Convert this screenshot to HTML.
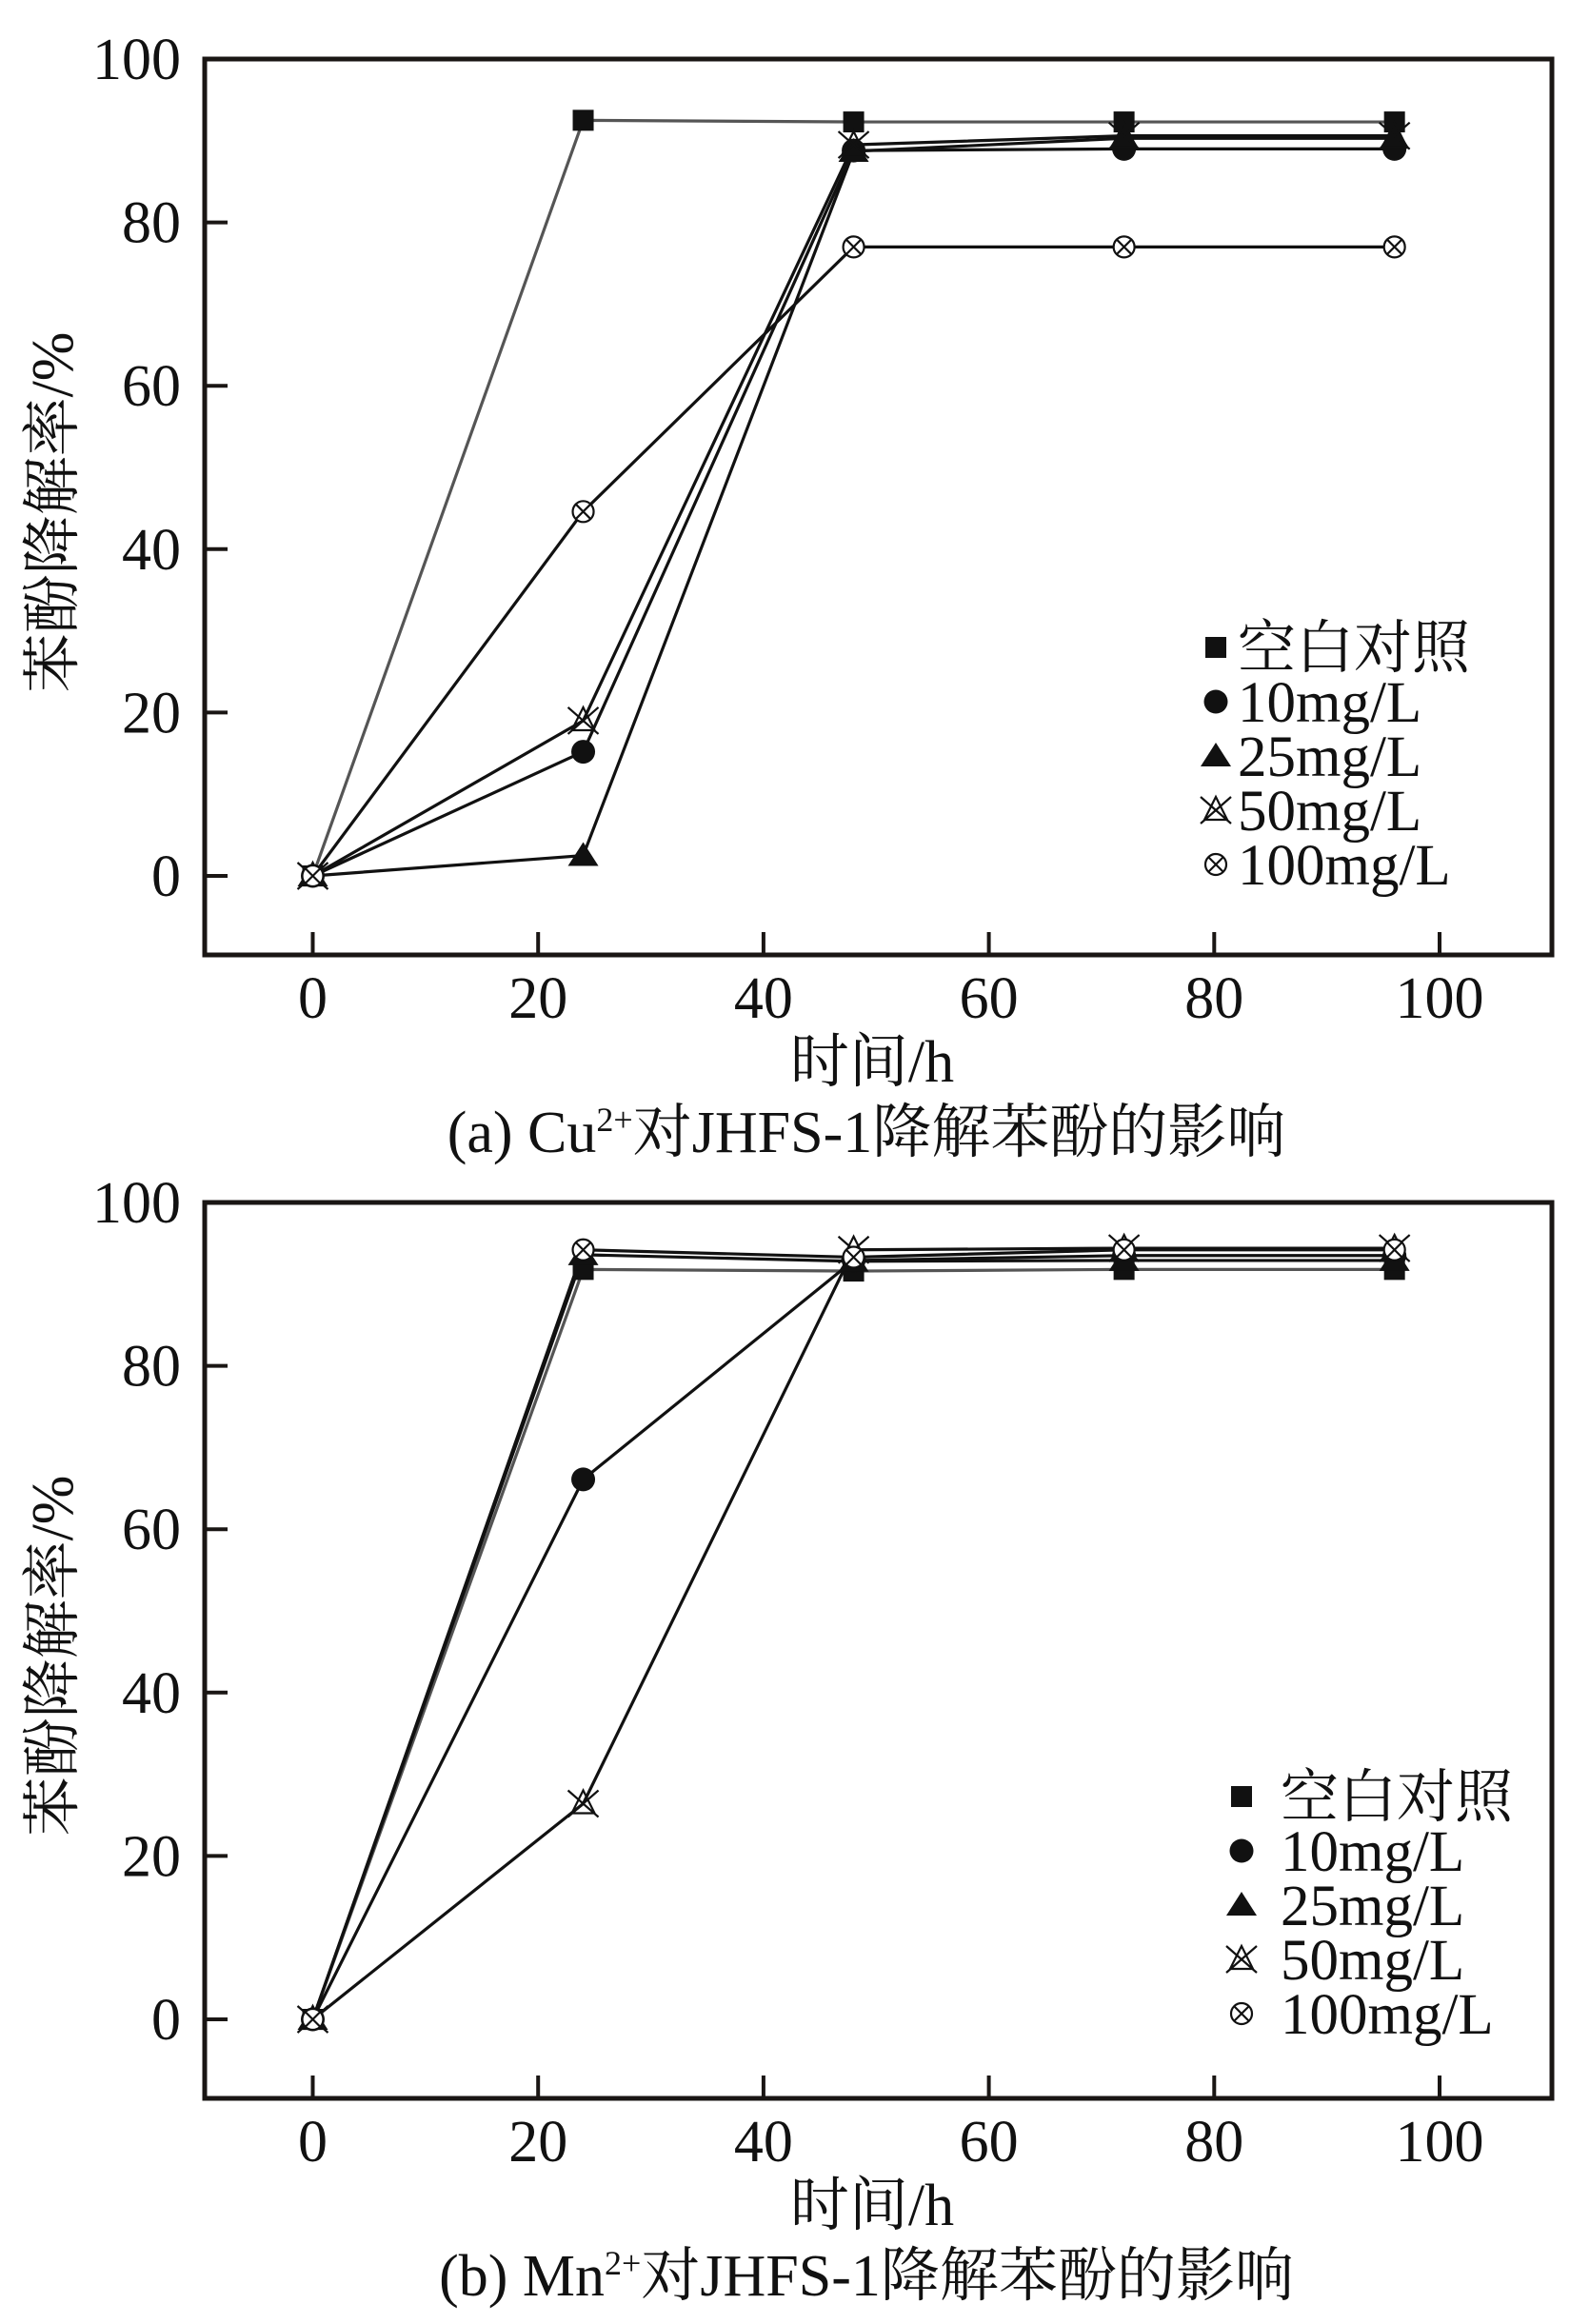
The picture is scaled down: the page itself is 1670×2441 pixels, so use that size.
<!DOCTYPE html>
<html><head><meta charset="utf-8"><style>
html,body{margin:0;padding:0;background:#fff;}
svg{display:block;}
text{font-family:"Liberation Serif","Noto Serif CJK SC",serif;fill:#111;}
</style></head><body>
<svg id="fig" width="1670" height="2441" viewBox="0 0 1670 2441"></svg>
<script>
const xTicks = [0, 20, 40, 60, 80, 100];
const yTicks = [0, 20, 40, 60, 80, 100];
const hours = [0, 24, 48, 72, 96];
const seriesNames = ['空白对照', '10mg/L', '25mg/L', '50mg/L', '100mg/L'];
const seriesKeys = ['blank', '10mg', '25mg', '50mg', '100mg'];
const cuBlank = [0, 92.5, 92.3, 92.3, 92.3];
const cu10 = [0, 15.2, 88.8, 89.0, 89.0];
const cu25 = [0, 2.5, 88.7, 90.3, 90.3];
const cu50 = [0, 19.0, 89.5, 90.6, 90.6];
const cu100 = [0, 44.6, 77.0, 77.0, 77.0];
const mnBlank = [0, 91.8, 91.6, 91.8, 91.8];
const mn10 = [0, 66.1, 92.9, 93.5, 93.5];
const mn25 = [0, 93.6, 92.8, 92.9, 92.9];
const mn50 = [0, 26.4, 94.2, 94.4, 94.4];
const mn100 = [0, 94.2, 93.3, 94.2, 94.2];

const NS = 'http://www.w3.org/2000/svg';
const svg = document.getElementById('fig');
function mk(tag, attrs, parent) {
  const e = document.createElementNS(NS, tag);
  for (const k in attrs) e.setAttribute(k, attrs[k]);
  (parent || svg).appendChild(e);
  return e;
}

function drawMarker(g, key, cx, cy) {
  let m;
  if (key === 'blank') {
    m = mk('rect', {x: cx - 11, y: cy - 11, width: 22, height: 22, fill: '#111'}, g);
  } else if (key === '10mg') {
    m = mk('circle', {cx: cx, cy: cy, r: 12.5, fill: '#111'}, g);
  } else if (key === '25mg') {
    m = mk('polygon', {points: `${cx},${cy - 14} ${cx + 16},${cy + 11} ${cx - 16},${cy + 11}`, fill: '#111'}, g);
  } else if (key === '50mg') {
    m = mk('path', {d: `M${cx - 16},${cy - 14}L${cx + 16},${cy + 14}M${cx + 16},${cy - 14}L${cx - 16},${cy + 14}M${cx},${cy - 14}L${cx + 12},${cy + 10}L${cx - 12},${cy + 10}Z`, fill: 'none', stroke: '#111', 'stroke-width': 2.2}, g);
  } else {
    m = mk('g', {}, g);
    mk('circle', {cx: cx, cy: cy, r: 11, fill: '#fff', stroke: '#111', 'stroke-width': 2.2}, m);
    mk('path', {d: `M${cx - 7.5},${cy - 7.5}L${cx + 7.5},${cy + 7.5}M${cx + 7.5},${cy - 7.5}L${cx - 7.5},${cy + 7.5}`, stroke: '#111', 'stroke-width': 2.2}, m);
  }
  return m;
}

function drawChart(oy, seriesData, caption, legendX, legendY, legendTextX, panelName) {
  const left = 215, right = 1630, top = 62 + oy, bottom = 1003 + oy;
  const xs = v => 328.5 + v * 11.835;
  const ys = v => 920 + oy - v * 8.58;
  const g = mk('g', {});
  
  

  seriesData.forEach((vals, si) => {
    const key = seriesKeys[si];
    const pts = vals.map((v, i) => xs(hours[i]) + ',' + ys(v)).join(' ');
    const line = mk('polyline', {points: pts, fill: 'none', stroke: key === 'blank' ? '#555' : '#111', 'stroke-width': 3.2}, g);
    
    
  });
  seriesData.forEach((vals, si) => {
    const key = seriesKeys[si];
    vals.forEach((v, i) => {
      const m = drawMarker(g, key, xs(hours[i]), ys(v));
      
      
    });
  });

  const frame = mk('rect', {x: left, y: top, width: right - left, height: bottom - top, fill: 'none', stroke: '#1a1614', 'stroke-width': 5}, g);
  
  

  xTicks.forEach(t => {
    const x = xs(t);
    const tk = mk('line', {x1: x, y1: bottom, x2: x, y2: bottom - 24, stroke: '#1a1614', 'stroke-width': 4}, g);
    
    
    const lb = mk('text', {x: x, y: bottom + 66, 'font-size': 62, 'text-anchor': 'middle'}, g);
    lb.textContent = t;
    
    
  });
  yTicks.forEach(t => {
    const y = ys(t);
    const tk = mk('line', {x1: left, y1: y, x2: left + 24, y2: y, stroke: '#1a1614', 'stroke-width': 4}, g);
    
    
    const lb = mk('text', {x: 190, y: y + 21, 'font-size': 62, 'text-anchor': 'end'}, g);
    lb.textContent = t;
    
    
  });

  const yt = mk('text', {x: 0, y: 0, 'font-size': 62, 'text-anchor': 'middle', transform: `translate(76,${538 + oy}) rotate(-90)`}, g);
  yt.textContent = '苯酚降解率/%';
  
  
  const xt = mk('text', {x: 916, y: 1136 + oy, 'font-size': 62, 'text-anchor': 'middle'}, g);
  xt.textContent = '时间/h';
  
  
  const cap = mk('text', {x: 910, y: 1210 + oy, 'font-size': 62, 'text-anchor': 'middle'}, g);
  cap.innerHTML = caption;
  
  

  seriesNames.forEach((name, i) => {
    const ly = legendY + oy + i * 57;
    const m = drawMarker(g, seriesKeys[i], legendX, ly);
    
    
    const t = mk('text', {x: legendTextX, y: ly + 21, 'font-size': 61}, g);
    t.textContent = name;
    
    
  });
}

drawChart(0, [cuBlank, cu10, cu25, cu50, cu100],
  '(a) Cu<tspan font-size="36" dy="-22">2+</tspan><tspan dy="22">对JHFS-1降解苯酚的影响</tspan>',
  1277, 680, 1300, 'chart-cu');
drawChart(1201, [mnBlank, mn10, mn25, mn50, mn100],
  '(b) Mn<tspan font-size="36" dy="-22">2+</tspan><tspan dy="22">对JHFS-1降解苯酚的影响</tspan>',
  1304, 686, 1345, 'chart-mn');
</script>
</body></html>
